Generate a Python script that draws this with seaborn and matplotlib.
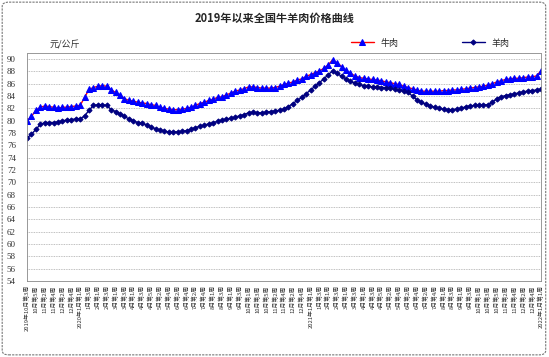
import numpy as np
import pandas as pd
import matplotlib
matplotlib.use("Agg")
import matplotlib.pyplot as plt
import matplotlib.patches as mpatches
import seaborn as sns

# weekly prices, 2019 Oct wk3 .. 2022 Jan wk1 (yuan/kg)
beef = [
    80.0, 80.7, 81.7, 82.2, 82.4, 82.3, 82.2, 82.0, 82.2, 82.2,
    82.3, 82.4, 82.5, 83.8, 85.1, 85.4, 85.6, 85.7, 85.6, 85.0,
    84.6, 84.2, 83.6, 83.3, 83.2, 83.0, 82.9, 82.8, 82.6, 82.5,
    82.2, 82.0, 81.9, 81.8, 81.8, 81.9, 82.0, 82.2, 82.5, 82.8,
    83.0, 83.3, 83.5, 83.8, 83.9, 84.2, 84.5, 84.8, 85.0, 85.2,
    85.5, 85.5, 85.4, 85.3, 85.3, 85.3, 85.4, 85.6, 85.9, 86.1,
    86.3, 86.6, 86.8, 87.2, 87.5, 87.8, 88.1, 88.5, 89.1, 89.9,
    89.4, 88.8, 88.2, 87.7, 87.3, 87.0, 86.9, 86.8, 86.7, 86.6,
    86.5, 86.3, 86.2, 86.0, 85.9, 85.6, 85.4, 85.2, 85.0, 84.8,
    84.8, 84.8, 84.8, 84.8, 84.9, 84.9, 85.0, 85.0, 85.1, 85.2,
    85.3, 85.4, 85.5, 85.6, 85.8, 86.0, 86.3, 86.5, 86.7, 86.8,
    86.9, 86.9, 87.0, 87.1, 87.1, 87.3, 88.1,
]
mutton = [
    77.2, 77.8, 78.6, 79.4, 79.7, 79.7, 79.7, 79.8, 80.0, 80.1,
    80.2, 80.3, 80.3, 80.8, 81.7, 82.5, 82.6, 82.6, 82.5, 81.8,
    81.5, 81.1, 80.7, 80.3, 80.0, 79.7, 79.6, 79.3, 79.0, 78.7,
    78.5, 78.3, 78.2, 78.2, 78.2, 78.3, 78.4, 78.6, 78.9, 79.1,
    79.3, 79.5, 79.7, 79.9, 80.1, 80.3, 80.4, 80.6, 80.8, 81.0,
    81.3, 81.4, 81.3, 81.3, 81.4, 81.5, 81.6, 81.7, 81.9, 82.3,
    82.8, 83.3, 83.8, 84.4, 85.0, 85.6, 86.2, 86.8, 87.5, 88.1,
    87.7, 87.2, 86.8, 86.4, 86.1, 85.9, 85.7, 85.6, 85.5, 85.5,
    85.4, 85.4, 85.3, 85.1, 85.0, 84.8, 84.6, 84.0, 83.4, 83.0,
    82.7, 82.4, 82.2, 82.0, 81.9, 81.8, 81.8, 81.9, 82.0, 82.3,
    82.4, 82.5, 82.5, 82.6, 82.6, 83.0, 83.6, 83.9, 84.1, 84.2,
    84.4, 84.5, 84.7, 84.8, 84.9, 85.0, 85.1,
]

# week labels: (year, month, first week, last week)
months_2019 = [(2019, 10, 3, 5), (2019, 11, 1, 4), (2019, 12, 1, 5)]
weeks_per_month = [4, 4, 4, 5, 4, 4, 5, 4, 4, 5, 4, 5]

week_labels = []
for y, m, w0, w1 in months_2019:
    for w in range(w0, w1 + 1):
        week_labels.append((y, m, w))
for y in (2020, 2021):
    for m, n in enumerate(weeks_per_month, start=1):
        for w in range(1, n + 1):
            week_labels.append((y, m, w))
week_labels.append((2022, 1, 1))

tick_text = []
for i, (y, m, w) in enumerate(week_labels):
    if i == 0 or (m == 1 and w == 1):
        tick_text.append(f"{y}年{m}月第{w}周")
    else:
        tick_text.append(f"{m}月第{w}周")

df = pd.DataFrame({"week": np.arange(len(beef)), "牛肉": beef, "羊肉": mutton})

sns.set_style("white")
plt.rcParams["font.family"] = ["Noto Sans CJK SC", "DejaVu Sans"]

fig = plt.figure(figsize=(5.49, 3.57), dpi=100)
ax = fig.add_axes([27 / 549, 1 - 281 / 357, 514 / 549, 228 / 357])

sns.lineplot(data=df, x="week", y="牛肉", ax=ax, color="red", lw=1.0,
             marker="^", markersize=4.5, markerfacecolor="blue",
             markeredgecolor="blue", label="牛肉")
sns.lineplot(data=df, x="week", y="羊肉", ax=ax, color="#000080", lw=1.0,
             marker="D", markersize=2.6, markerfacecolor="#000080",
             markeredgecolor="#000080", label="羊肉")

ax.set_xlim(0, len(beef) - 1)
ax.set_ylim(54, 91)
ax.set_yticks(range(54, 91, 2))
ax.set_yticklabels([str(v) for v in range(54, 91, 2)],
                   family="Liberation Serif", fontsize=6.5, color="#333333")
pos = list(range(0, len(beef), 2))
ax.set_xticks(pos)
ax.set_xticklabels([tick_text[i] for i in pos], rotation=90, fontsize=4.2,
                   va="top", ha="center", color="#333333")
ax.tick_params(axis="x", length=2, width=0.5, color="gray", pad=1)
ax.tick_params(axis="y", length=0, pad=8)
ax.set_xlabel("")
ax.set_ylabel("")

ax.grid(axis="y", color="#aaaaaa", ls=(0, (1, 1)), lw=0.6)
ax.set_axisbelow(True)
for side in ["top", "right", "left"]:
    ax.spines[side].set_linestyle((0, (1, 1)))
    ax.spines[side].set_color("#888888")
    ax.spines[side].set_linewidth(0.6)
ax.spines["bottom"].set_color("#888888")
ax.spines["bottom"].set_linewidth(0.6)

ax.legend(loc="lower left", bbox_to_anchor=(0.62, 1.0), ncol=2, frameon=False,
          fontsize=6.5, handlelength=2.5, columnspacing=7, borderaxespad=0.2)

fig.text(0.5, 1 - 18 / 357, "2019年以来全国牛羊肉价格曲线", ha="center",
         va="center", fontsize=8, fontweight="bold")
fig.text(50 / 549, 1 - 45 / 357, "元/公斤", ha="left", va="center",
         fontsize=6.5, color="#333333")

fig.patches.append(mpatches.FancyBboxPatch(
    (0.004, 0.006), 0.99, 0.988, boxstyle="round,pad=0,rounding_size=0.012",
    transform=fig.transFigure, fill=False, ec="#777777", lw=0.8, ls=(0, (2, 1))))

fig.savefig("out.png", dpi=100)
